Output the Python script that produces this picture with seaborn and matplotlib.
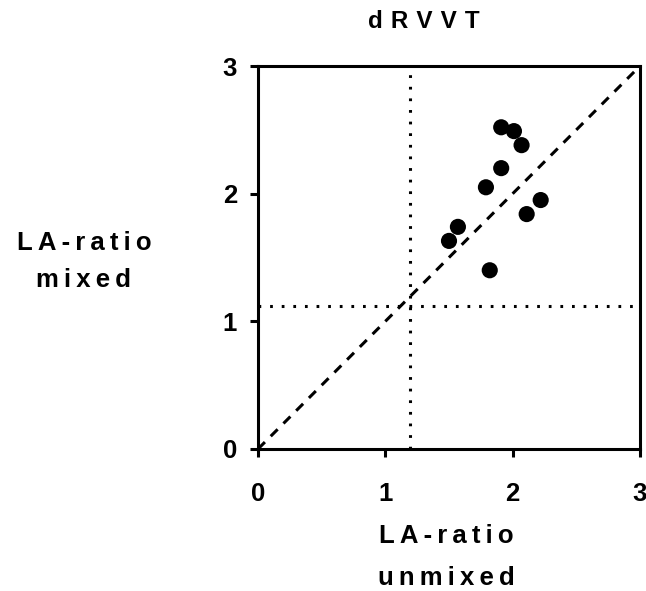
import matplotlib
matplotlib.use("Agg")
import matplotlib.pyplot as plt
import seaborn as sns
import pandas as pd

# LA-ratio per sample: unmixed vs mixed (dRVVT)
unmixed = [1.91, 2.01, 2.07, 1.91, 1.79, 2.22, 2.11, 1.57, 1.50, 1.82]
mixed = [2.52, 2.49, 2.38, 2.20, 2.05, 1.95, 1.84, 1.74, 1.63, 1.40]

# cut-off values for each ratio
cutoff_unmixed = 1.19
cutoff_mixed = 1.12

ticks = [0, 1, 2, 3]
title = "dRVVT"
xlabel_lines = ["LA-ratio", "unmixed"]
ylabel_lines = ["LA-ratio", "mixed"]


def spaced(s, sep="\u2009"):
    """Letter-spaced version of a label."""
    return sep.join(s)


sns.set_theme(style="white")
plt.rcParams["font.family"] = ["Liberation Sans", "DejaVu Sans"]
plt.rcParams["font.weight"] = "bold"

df = pd.DataFrame({"unmixed": unmixed, "mixed": mixed})

fig = plt.figure(figsize=(6.46, 5.91), dpi=100)
ax = fig.add_axes([258 / 646, 1 - 449 / 591, 382 / 646, 383 / 591])

lw = 2.2
# identity line
ax.plot([0, 3], [0, 3], color="black", lw=lw, linestyle=(0, (3.2, 2.7)),
        dash_capstyle="butt", zorder=2)
# cut-off lines
ax.plot([cutoff_unmixed, cutoff_unmixed], [0, 3], color="black", lw=lw,
        linestyle=(0, (0.9, 2.9)), dash_capstyle="butt", zorder=2)
ax.plot([0, 3], [cutoff_mixed, cutoff_mixed], color="black", lw=lw,
        linestyle=(0, (0.9, 2.9)), dash_capstyle="butt", zorder=2)

sns.scatterplot(data=df, x="unmixed", y="mixed", ax=ax, color="black",
                s=135, edgecolor="none", linewidth=0, zorder=3)

ax.set_xlim(0, 3)
ax.set_ylim(0, 3)
ax.set_xticks(ticks)
ax.set_yticks(ticks)
ax.set_xticklabels([str(t) for t in ticks], fontsize=18.5, fontweight="bold")
ax.set_yticklabels([str(t) for t in ticks], fontsize=18.5, fontweight="bold")
ax.tick_params(axis="x", direction="out", length=6, width=lw, pad=18,
               colors="black", bottom=True)
ax.tick_params(axis="y", direction="out", length=6, width=lw, pad=9,
               colors="black", left=True)
ax.set_xlabel("")
ax.set_ylabel("")

for side in ["left", "bottom", "top", "right"]:
    ax.spines[side].set_visible(True)
    ax.spines[side].set_color("black")
    ax.spines[side].set_linewidth(lw)

text_kw = dict(ha="center", va="center", fontweight="bold", color="black")
fig.text(424 / 646, 1 - 22 / 591, spaced(title, "\u2004"), fontsize=17.5,
         **text_kw)
fig.text(446 / 646, 1 - 536 / 591, spaced(xlabel_lines[0]), fontsize=18.5,
         **text_kw)
fig.text(446 / 646, 1 - 578 / 591, spaced(xlabel_lines[1]), fontsize=18.5,
         **text_kw)
fig.text(84 / 646, 1 - 243 / 591, spaced(ylabel_lines[0]), fontsize=18.5,
         **text_kw)
fig.text(84 / 646, 1 - 280 / 591, spaced(ylabel_lines[1]), fontsize=18.5,
         **text_kw)

fig.savefig("out.png", dpi=100, facecolor="white")
